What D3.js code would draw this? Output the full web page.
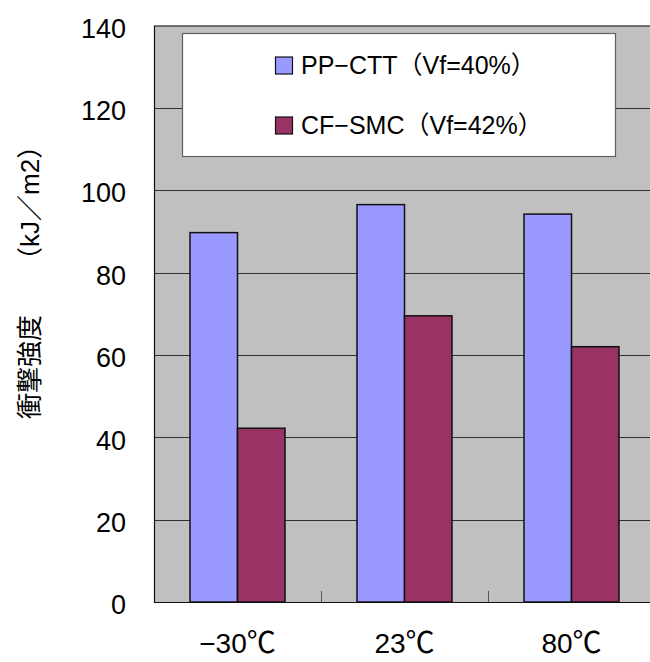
<!DOCTYPE html>
<html>
<head>
<meta charset="utf-8">
<script src="https://cdn.jsdelivr.net/npm/d3@7"></script>
<style>
  html, body { margin: 0; padding: 0; background: #ffffff; }
  svg { display: block; }
  text { font-family: "Liberation Sans", Arial, "Noto Sans CJK JP", sans-serif; fill: #000; }
</style>
</head>
<body>
<svg id="chart" width="650" height="662"></svg>
<script>
// Impact strength by test temperature
const categories = ["−30℃", "23℃", "80℃"];
const seriesNames = ["PP−CTT（Vf=40%）", "CF−SMC（Vf=42%）"];
const ppCtt = [89.7, 96.5, 94.2];
const cfSmc = [42.2, 69.5, 62.0];
const yTicks = [0, 20, 40, 60, 80, 100, 120, 140];
const yTitleMain = "衝撃強度";
const yTitleUnit = "（kJ／m2）";

const colors = ["#9999FF", "#993366"];
const seriesValues = [ppCtt, cfSmc];
const cjkFont = "Noto Sans CJK JP, sans-serif";
const latinFont = "Liberation Sans, Arial, sans-serif";

const svg = d3.select("#chart");

const plot = { left: 154, right: 655, top: 25.5, bottom: 602 };

const x = d3.scaleBand()
  .domain(categories)
  .range([plot.left, plot.right])
  .paddingInner(0)
  .paddingOuter(0);

const groupWidth = x.bandwidth() * (95 / 167);
const xs = d3.scaleBand()
  .domain(d3.range(seriesValues.length))
  .range([0, groupWidth]);

const y = d3.scaleLinear()
  .domain([0, 140])
  .range([plot.bottom, plot.top]);

// plot background
svg.append("rect")
  .attr("x", plot.left).attr("y", plot.top)
  .attr("width", plot.right - plot.left)
  .attr("height", plot.bottom - plot.top)
  .attr("fill", "#C0C0C0");

// horizontal gridlines
svg.append("g")
  .selectAll("line")
  .data(yTicks.filter(d => d > 0 && d < 140))
  .join("line")
  .attr("x1", plot.left).attr("x2", plot.right)
  .attr("y1", d => Math.round(y(d)) + 0.5)
  .attr("y2", d => Math.round(y(d)) + 0.5)
  .attr("stroke", "#303030")
  .attr("stroke-width", 1);

// category tick marks (inside, at band boundaries)
svg.append("g")
  .selectAll("line")
  .data(categories.slice(1))
  .join("line")
  .attr("x1", d => Math.round(x(d)) + 0.5)
  .attr("x2", d => Math.round(x(d)) + 0.5)
  .attr("y1", plot.bottom)
  .attr("y2", plot.bottom - 11)
  .attr("stroke", "#555")
  .attr("stroke-width", 1);

// bars
seriesValues.forEach((vals, si) => {
  svg.append("g")
    .selectAll("rect")
    .data(vals)
    .join("rect")
    .attr("x", (d, i) => x(categories[i]) + (x.bandwidth() - groupWidth) / 2 + xs(si))
    .attr("y", d => y(d))
    .attr("width", xs.bandwidth())
    .attr("height", d => y(0) - y(d))
    .attr("fill", colors[si])
    .attr("stroke", "#111")
    .attr("stroke-width", 1.5);
});

// plot frame
svg.append("path")
  .attr("d", `M${plot.right},${plot.top + 0.5}H${plot.left + 0.5}V${plot.bottom + 0.5}H${plot.right}`)
  .attr("fill", "none")
  .attr("stroke", "#111")
  .attr("stroke-width", 1.2);

// y axis labels
const yAxis = d3.axisLeft(y).tickValues(yTicks).tickSize(0).tickPadding(0);
const gy = svg.append("g").attr("transform", `translate(126,0)`).call(yAxis);
gy.select(".domain").remove();
gy.selectAll("text")
  .attr("font-size", 27)
  .attr("font-family", latinFont)
  .attr("dy", "0.36em")
  .attr("transform", "translate(0,2)");

// x axis labels: digits in the Latin face, the degree sign in the CJK face
const xAxis = d3.axisBottom(x).tickSize(0).tickPadding(0).tickFormat(() => "");
const gx = svg.append("g").attr("transform", `translate(0,653)`).call(xAxis);
gx.select(".domain").remove();
gx.selectAll("text")
  .attr("font-size", 28)
  .attr("dy", 0)
  .attr("y", 0)
  .each(function(d) {
    const t = d3.select(this);
    const parts = d.split("℃");
    t.append("tspan").attr("font-family", latinFont).text(parts[0]);
    t.append("tspan").attr("font-family", cjkFont).attr("font-size", 29).text("℃");
  });

// y axis title
const title = svg.append("text")
  .attr("transform", "translate(30,419) rotate(-90)")
  .attr("text-anchor", "start")
  .attr("dominant-baseline", "central")
  .attr("font-family", cjkFont)
  .attr("font-size", 26);
title.append("tspan").text(yTitleMain);
title.append("tspan").attr("dx", 42).text(yTitleUnit);

// legend
const legend = svg.append("g");
legend.append("rect")
  .attr("x", 182.5).attr("y", 33.5)
  .attr("width", 433).attr("height", 123)
  .attr("fill", "#fff")
  .attr("stroke", "#606060")
  .attr("stroke-width", 1.2);

const rowY = [66, 126];
seriesNames.forEach((name, i) => {
  legend.append("rect")
    .attr("x", 275.5).attr("y", rowY[i] - 9)
    .attr("width", 17).attr("height", 17)
    .attr("fill", colors[i])
    .attr("stroke", "#111")
    .attr("stroke-width", 1.2);
  legend.append("text")
    .attr("x", 301)
    .attr("y", rowY[i] + 8)
    .attr("font-size", 25)
    .text(name);
});
</script>
</body>
</html>
